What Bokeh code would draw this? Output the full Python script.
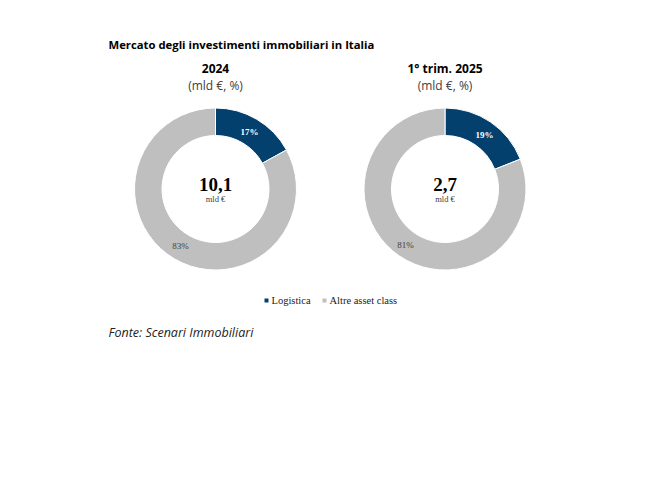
import math
from bokeh.core.properties import value
from bokeh.plotting import figure
from bokeh.embed import file_html
from bokeh.resources import INLINE

categories = ["Logistica", "Altre asset class"]
colors = ["#03406E", "#BFBFBF"]
panels = ["2024", "1° trim. 2025"]
values_2024 = [17, 83]
values_2025 = [19, 81]
totals = ["10,1", "2,7"]
unit = "mld €"
subtitle = "(mld €, %)"
title = "Mercato degli investimenti immobiliari in Italia"
source = "Fonte: Scenari Immobiliari"

W, H = 630, 469
p = figure(width=W, height=H, output_backend="svg", toolbar_location=None,
           x_range=(0, W), y_range=(485 - H, 485), min_border=0)
p.axis.visible = False
p.grid.visible = False
p.outline_line_color = None
p.background_fill_color = "white"
p.border_fill_color = "white"

def Y(py):
    return 485 - py

def txt(x, py, s, size, font, color="#000000", style="normal", align="center"):
    p.text([x], [Y(py)], text=[s], text_font=value(font), text_font_size=f"{size}px",
           text_color=color, text_font_style=style, text_align=align, text_baseline="middle")

SANS = "Open Sans"
SERIF = "Liberation Serif"
centers = [(215, 188.5), (444.5, 188.5)]
label_pos = [[(249, 131), (180, 245)], [(484, 134), (405, 244)]]
R_OUT, R_IN = 81, 53.5

txt(108, 43.5, title, 11.3, SANS, style="bold", align="left")
for i, vals in enumerate([values_2024, values_2025]):
    cx, cy = centers[i]
    total = sum(vals)
    start = math.pi / 2
    for j, v in enumerate(vals):
        end = start - 2 * math.pi * v / total
        p.annular_wedge([cx], [Y(cy)], inner_radius=R_IN, outer_radius=R_OUT,
                        start_angle=start, end_angle=end, direction="clock",
                        fill_color=colors[j], line_color="white", line_width=1)
        start = end
        lx, ly = label_pos[i][j]
        txt(lx, ly, f"{v}%", 9, SERIF, color="white" if j == 0 else "#404040",
            style="bold" if j == 0 else "normal")
    txt(cx, 68, panels[i], 12, SANS, style="bold")
    txt(cx, 85, subtitle, 12, SANS, color="#404040")
    txt(cx, 184, totals[i], 19, SERIF, style="bold")
    txt(cx, 198, unit, 8.5, SERIF, color="#404040")

for x, tx, c, name in zip([266, 324], [271, 329], colors, categories):
    p.scatter([x], [Y(300)], size=4, marker="square", fill_color=c, line_color=None)
    txt(tx, 300, name, 10.5, SERIF, color="#222222", align="left")

txt(108, 332, source, 12.5, SANS, color="#222222", style="italic", align="left")

open("out.html", "w").write(file_html(p, INLINE))
